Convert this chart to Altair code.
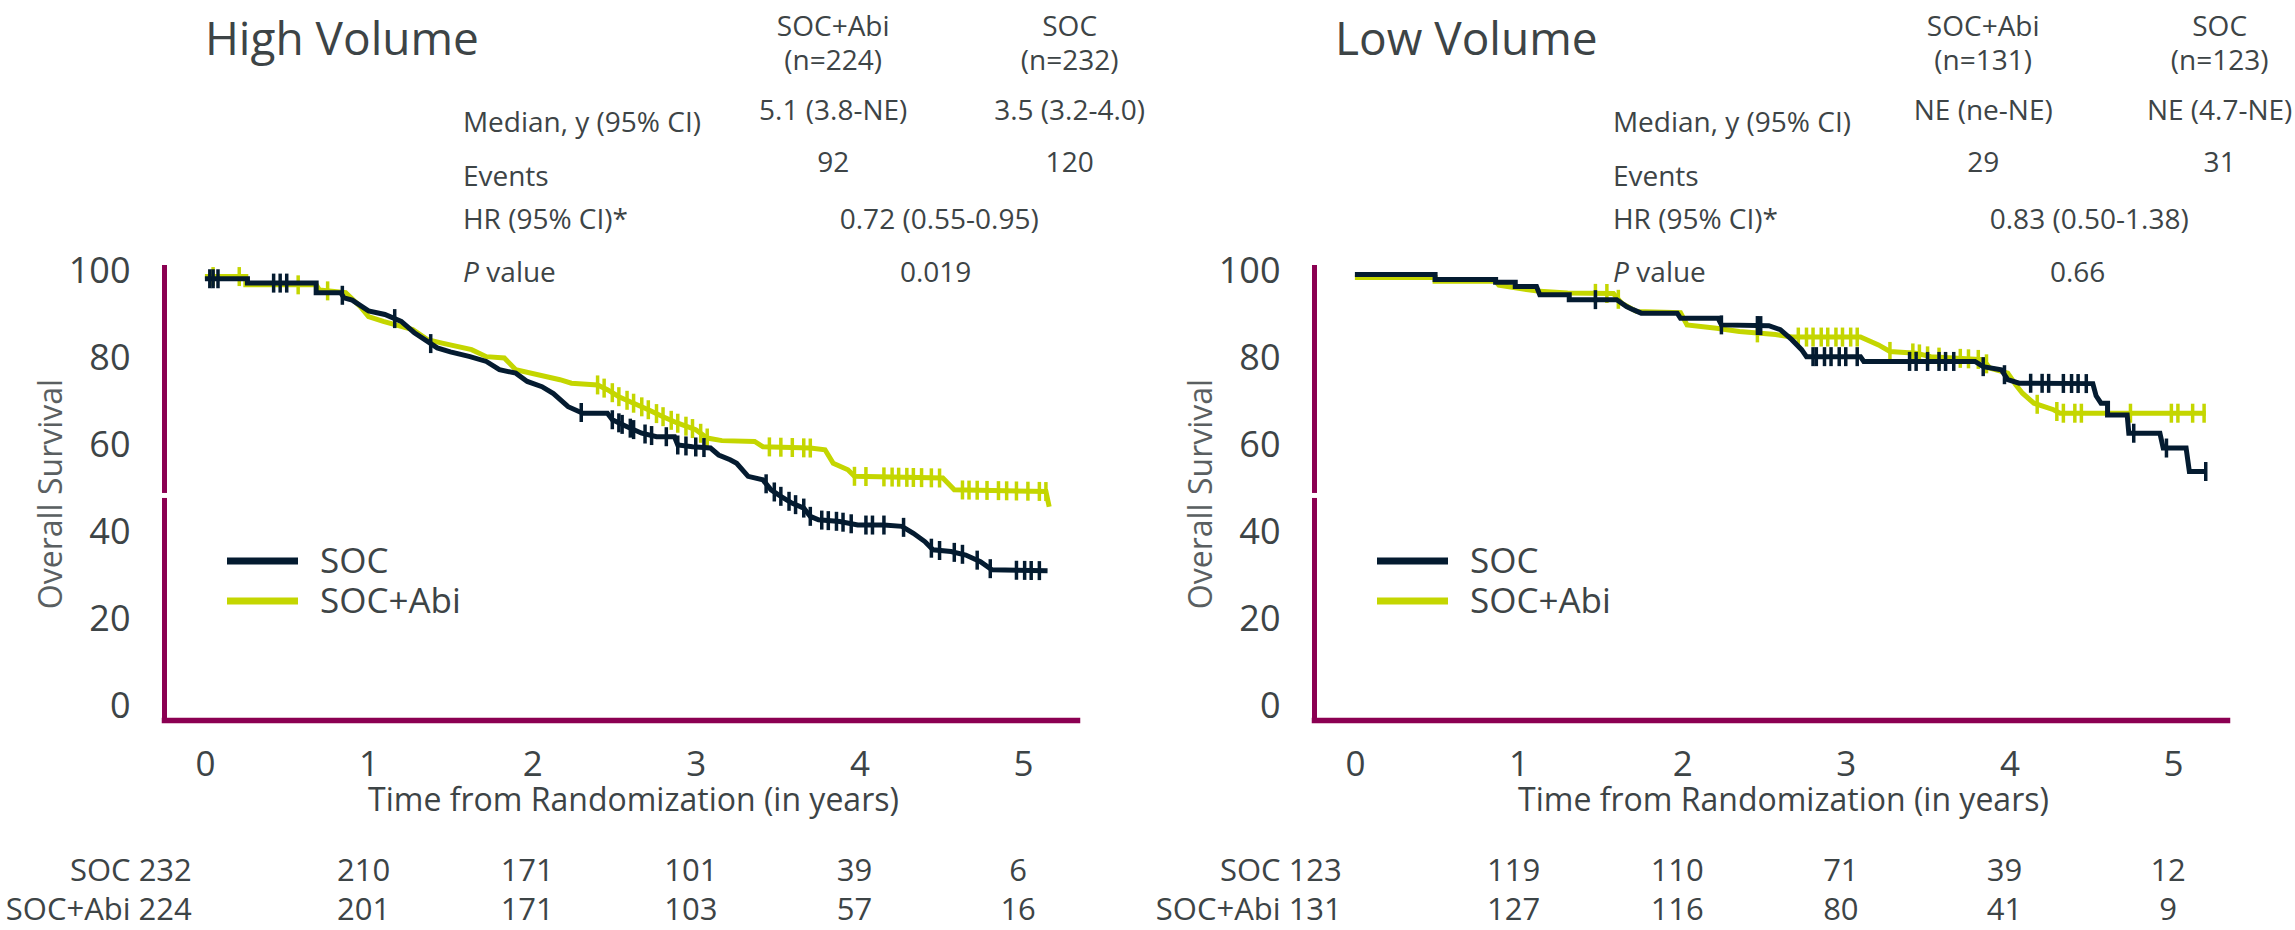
import altair as alt
import numpy as np
import pandas as pd

NAVY = "#041b30"
LIME = "#c4d600"
MAROON = "#8b0052"
INK = "#3d4446"
FONT = "Open Sans"

ARMS = ["SOC", "SOC+Abi"]
COLORS = {"SOC": NAVY, "SOC+Abi": LIME}

# ---------------- High volume: Kaplan-Meier curves (years, % alive)
hv_soc_t = [0, 0.26, 0.26, 0.68, 0.68, 0.83, 0.85, 0.90, 1.00, 1.10, 1.20, 1.28, 1.36, 1.42, 1.50,
            1.62, 1.72, 1.80, 1.90, 1.97, 2.06, 2.13, 2.22, 2.31, 2.46, 2.49, 2.58, 2.67, 2.76, 2.87,
            2.89, 2.98, 3.09, 3.14, 3.21, 3.25, 3.32, 3.41, 3.46, 3.52, 3.59, 3.66, 3.70, 3.75, 3.88,
            3.99, 4.15, 4.26, 4.33, 4.40, 4.45, 4.56, 4.65, 4.74, 4.81, 5.15]
hv_soc_s = [98.4, 98.4, 97.4, 97.4, 95.2, 95.2, 94.0, 93.5, 91.0, 90.2, 88.6, 86.0, 84.0, 82.5, 81.6,
            80.5, 79.4, 77.5, 76.7, 74.8, 73.6, 72.0, 69.0, 67.5, 67.5, 66.0, 64.4, 62.9, 62.1, 62.1,
            60.2, 59.8, 59.5, 57.9, 56.8, 56.0, 53.0, 52.2, 49.9, 48.4, 46.8, 45.7, 43.8, 43.0, 42.6,
            41.8, 41.8, 41.5, 39.9, 38.0, 36.1, 35.7, 34.9, 33.4, 31.5, 31.3]
hv_abi_t = [0, 0.25, 0.25, 0.68, 0.70, 0.86, 0.95, 1.00, 1.09, 1.27, 1.36, 1.45, 1.63, 1.72, 1.83,
            1.90, 2.17, 2.24, 2.40, 2.46, 2.53, 2.62, 2.71, 2.80, 2.89, 3.00, 3.07, 3.16, 3.36, 3.41,
            3.70, 3.79, 3.84, 3.93, 3.97, 4.51, 4.58, 5.14, 5.16]
hv_abi_s = [98.9, 98.9, 97.0, 97.0, 95.8, 95.2, 92.0, 89.7, 88.6, 86.7, 84.4, 83.6, 82.1, 80.5, 80.2,
            77.5, 75.2, 74.4, 74.0, 72.9, 71.3, 69.8, 68.3, 66.7, 65.2, 63.7, 61.8, 61.2, 61.0, 59.8,
            59.5, 59.1, 56.0, 54.5, 53.0, 52.6, 49.9, 49.5, 46.0]
hv_soc_cens = [0.03, 0.05, 0.08, 0.42, 0.46, 0.50, 0.84, 1.16, 1.38, 2.30, 2.49, 2.53, 2.55, 2.60,
               2.62, 2.69, 2.73, 2.82, 2.89, 2.94, 3.00, 3.05, 3.43, 3.48, 3.52, 3.57, 3.61, 3.66,
               3.70, 3.77, 3.81, 3.86, 3.90, 3.95, 4.04, 4.08, 4.15, 4.27, 4.44, 4.49, 4.58, 4.63,
               4.72, 4.80, 4.96, 5.01, 5.05, 5.10]
hv_abi_cens = [0.05, 0.21, 0.57, 0.75, 2.40, 2.44, 2.49, 2.53, 2.58, 2.62, 2.67, 2.71, 2.76, 2.80,
               2.85, 2.89, 2.94, 2.98, 3.03, 3.07, 3.45, 3.52, 3.59, 3.66, 3.70, 3.97, 4.04, 4.15,
               4.20, 4.24, 4.29, 4.33, 4.38, 4.44, 4.49, 4.63, 4.67, 4.72, 4.78, 4.85, 4.90, 4.96,
               5.03, 5.10, 5.14]

# ---------------- Low volume
lv_soc_t = [0, 0.49, 0.49, 0.86, 0.86, 0.98, 0.98, 1.11, 1.13, 1.31, 1.31, 1.60, 1.66, 1.70, 1.75,
            1.97, 1.99, 2.22, 2.24, 2.53, 2.60, 2.67, 2.73, 2.76, 3.09, 3.11, 3.79, 3.84, 3.95, 3.99,
            4.06, 4.51, 4.53, 4.56, 4.60, 4.60, 4.72, 4.73, 4.92, 4.94, 5.08, 5.10, 5.20]
lv_soc_s = [99.4, 99.4, 98.2, 98.2, 97.6, 97.6, 96.6, 96.6, 94.7, 94.7, 93.6, 93.6, 92.0, 91.3, 90.5,
            90.5, 89.3, 89.3, 87.8, 87.6, 86.7, 84.4, 82.1, 80.5, 80.5, 79.4, 79.4, 78.2, 77.5, 75.2,
            74.4, 74.3, 71.5, 69.8, 69.8, 67.1, 67.1, 62.9, 62.9, 59.5, 59.5, 54.1, 54.1]
lv_abi_t = [0, 0.49, 0.49, 0.86, 0.88, 1.00, 1.13, 1.30, 1.58, 1.63, 1.72, 1.99, 2.03, 2.21, 2.35,
            2.48, 2.57, 2.67, 3.09, 3.20, 3.27, 3.43, 3.52, 3.84, 3.88, 3.99, 4.04, 4.08, 4.15, 4.27,
            4.31, 5.20]
lv_abi_s = [98.7, 98.7, 97.8, 97.8, 96.9, 96.2, 95.5, 95.1, 95.0, 92.8, 90.9, 90.6, 87.8, 87.0, 86.3,
            85.9, 85.6, 85.0, 85.0, 83.2, 81.7, 81.3, 80.5, 79.8, 77.9, 76.7, 74.0, 72.1, 69.8, 68.3,
            67.5, 67.5]
lv_soc_cens = [1.47, 2.24, 2.46, 2.48, 2.80, 2.82, 2.87, 2.91, 2.96, 3.00, 3.07, 3.39, 3.43, 3.50,
               3.57, 3.61, 3.66, 3.84, 3.97, 4.13, 4.20, 4.24, 4.33, 4.38, 4.42, 4.47, 4.76, 4.96, 5.20]
lv_abi_cens = [1.47, 1.54, 1.61, 2.46, 2.71, 2.76, 2.80, 2.85, 2.89, 2.94, 2.98, 3.03, 3.07, 3.27,
               3.41, 3.45, 3.50, 3.57, 3.70, 3.75, 3.81, 3.86, 4.17, 4.29, 4.33, 4.40, 4.44, 4.74,
               4.99, 5.03, 5.12, 5.19]

# ---------------- Numbers at risk
risk_years = [0, 1, 2, 3, 4, 5]
hv_risk_soc = [232, 210, 171, 101, 39, 6]
hv_risk_abi = [224, 201, 171, 103, 57, 16]
lv_risk_soc = [123, 119, 110, 71, 39, 12]
lv_risk_abi = [131, 127, 116, 80, 41, 9]

# ---------------- Summary tables
col_arms = ["SOC+Abi", "SOC"]
hv_n = ["(n=224)", "(n=232)"]
lv_n = ["(n=131)", "(n=123)"]
row_labels = ["Median, y (95% CI)", "Events", "HR (95% CI)*"]
hv_median = ["5.1 (3.8-NE)", "3.5 (3.2-4.0)"]
lv_median = ["NE (ne-NE)", "NE (4.7-NE)"]
hv_events = ["92", "120"]
lv_events = ["29", "31"]
hv_hr = "0.72 (0.55-0.95)"
lv_hr = "0.83 (0.50-1.38)"
hv_p = "0.019"
lv_p = "0.66"

# ---------------- layout (data units of each panel)
X_DOM = [-0.25, 5.33]
Y_DOM = [-3.0, 101.1]
W, H = 913, 453
T_COL = [3.84, 5.285]
V_HEAD = [156.1, 148.3]
T_LBL, T_VALUE_WORD = 1.577, 1.72
V_LBL = [134.0, 121.6, 111.7]
V_VAL = [136.8, 124.8]
T_HR, T_P, V_P = 3.88, 4.248, 99.5
V_TITLE = 153.1
T_RISK_LBL = -0.08
V_RISK = [-40.0, -49.0]

xenc = alt.X("t:Q", scale=alt.Scale(domain=X_DOM, nice=False, zero=False),
             axis=alt.Axis(values=[0, 1, 2, 3, 4, 5], format="d",
                           title="Time from Randomization (in years)",
                           domainColor=MAROON, domainWidth=5.5, domainCap="square",
                           ticks=False, tickSize=0, grid=False,
                           labelFont=FONT, labelFontSize=35, labelColor=INK, labelPadding=27,
                           labelAlign="center", labelBaseline="top",
                           titleFont=FONT, titleFontSize=32, titleFontWeight="normal",
                           titleColor=INK, titleX=469, titleY=80, titleAlign="center",
                           titleBaseline="middle", zindex=0))
yenc = alt.Y("s:Q", scale=alt.Scale(domain=Y_DOM, nice=False, zero=False),
             axis=alt.Axis(values=[0, 20, 40, 60, 80, 100], format="d",
                           title="Overall Survival",
                           domainColor=MAROON, domainWidth=5, domainCap="square",
                           ticks=False, tickSize=0, grid=False,
                           labelFont=FONT, labelFontSize=36, labelColor=INK, labelPadding=34,
                           labelAlign="right", labelBaseline="middle",
                           titleFont=FONT, titleFontSize=32, titleFontWeight="normal",
                           titleColor="#5a5f61", titleX=-113, titleY=H / 2, titleAngle=270,
                           titleAlign="center", titleBaseline="middle", zindex=0))


def curve(t, s, arm):
    df = pd.DataFrame({"t": t, "s": s, "arm": arm, "i": np.arange(len(t))})
    return alt.Chart(df).mark_line(color=COLORS[arm], strokeWidth=5, strokeCap="butt").encode(
        x=xenc, y=yenc, order="i:Q")


def censor(c, t, s, arm):
    df = pd.DataFrame({"t": c, "s": np.interp(c, t, s), "arm": arm})
    return alt.Chart(df).mark_tick(color=COLORS[arm], orient="vertical", size=19,
                                   thickness=3.5, opacity=1).encode(x=xenc, y=yenc)


def texts(rows, **kw):
    df = pd.DataFrame(rows, columns=["t", "s", "label"])
    base = dict(font=FONT, color=INK, baseline="middle")
    base.update(kw)
    return alt.Chart(df).mark_text(**base).encode(x=xenc, y=yenc, text="label:N")


def panel(title, t_title, curves, n_txt, med, evt, hr, p, risk_soc, risk_abi, bounds=False):
    layers = []
    if bounds:
        layers.append(alt.Chart(pd.DataFrame({"a": [0]})).mark_rule(opacity=0, strokeWidth=1).encode(
            x=alt.value(-163.5), y=alt.value(-267), y2=alt.value(663)))
    # axis break
    layers.append(alt.Chart(pd.DataFrame({"s": [48.6]})).mark_rule(color="white", strokeWidth=5).encode(
        x=alt.value(-5), x2=alt.value(5), y=yenc))
    (st, ss, sc), (at, as_, ac) = curves["SOC"], curves["SOC+Abi"]
    layers += [curve(at, as_, "SOC+Abi"), censor(ac, at, as_, "SOC+Abi"),
               curve(st, ss, "SOC"), censor(sc, st, ss, "SOC")]
    # legend
    for arm, yy in [("SOC", 294), ("SOC+Abi", 334)]:
        layers.append(alt.Chart(pd.DataFrame({"arm": [arm]})).mark_rule(
            color=COLORS[arm], strokeWidth=7).encode(x=alt.value(63), x2=alt.value(134), y=alt.value(yy)))
        layers.append(alt.Chart(pd.DataFrame({"arm": [arm]})).mark_text(
            font=FONT, fontSize=35, color=INK, align="left", baseline="middle").encode(
            x=alt.value(156), y=alt.value(yy + 1), text="arm:N"))
    # title
    layers.append(texts([(t_title, V_TITLE, title)], fontSize=46, align="left"))
    # table headers and values (centered)
    centered = []
    for k in range(2):
        centered += [(T_COL[k], V_HEAD[0], col_arms[k]), (T_COL[k], V_HEAD[1], n_txt[k]),
                     (T_COL[k], V_VAL[0], med[k]), (T_COL[k], V_VAL[1], evt[k])]
    layers.append(texts(centered, fontSize=28, align="center"))
    left = [(T_LBL, V_LBL[i], row_labels[i]) for i in range(3)]
    left += [(T_VALUE_WORD, V_P, "value"), (T_HR, V_LBL[2], hr), (T_P, V_P, p)]
    layers.append(texts(left, fontSize=28, align="left"))
    layers.append(texts([(T_LBL, V_P, "P")], fontSize=28, align="left", fontStyle="italic"))
    # numbers at risk
    lbls = [(T_RISK_LBL, V_RISK[0], f"SOC {risk_soc[0]}"),
            (T_RISK_LBL, V_RISK[1], f"SOC+Abi {risk_abi[0]}")]
    layers.append(texts(lbls, fontSize=31, align="right", baseline="alphabetic"))
    nums = []
    for k in range(1, len(risk_years)):
        nums.append((risk_years[k] - 0.03, V_RISK[0], str(risk_soc[k])))
        nums.append((risk_years[k] - 0.03, V_RISK[1], str(risk_abi[k])))
    layers.append(texts(nums, fontSize=31, align="center", baseline="alphabetic"))
    return alt.layer(*layers).properties(width=W, height=H)


left = panel("High Volume", 0.0,
             {"SOC": (hv_soc_t, hv_soc_s, hv_soc_cens), "SOC+Abi": (hv_abi_t, hv_abi_s, hv_abi_cens)},
             hv_n, hv_median, hv_events, hv_hr, hv_p, hv_risk_soc, hv_risk_abi, bounds=True)
right = panel("Low Volume", -0.122,
              {"SOC": (lv_soc_t, lv_soc_s, lv_soc_cens), "SOC+Abi": (lv_abi_t, lv_abi_s, lv_abi_cens)},
              lv_n, lv_median, lv_events, lv_hr, lv_p, lv_risk_soc, lv_risk_abi)

chart = alt.hconcat(left, right, spacing=237, bounds="flush").properties(
    padding=0, background="white").configure_view(strokeWidth=0)

chart.save("out.html", embed_options={"renderer": "svg", "actions": False})
